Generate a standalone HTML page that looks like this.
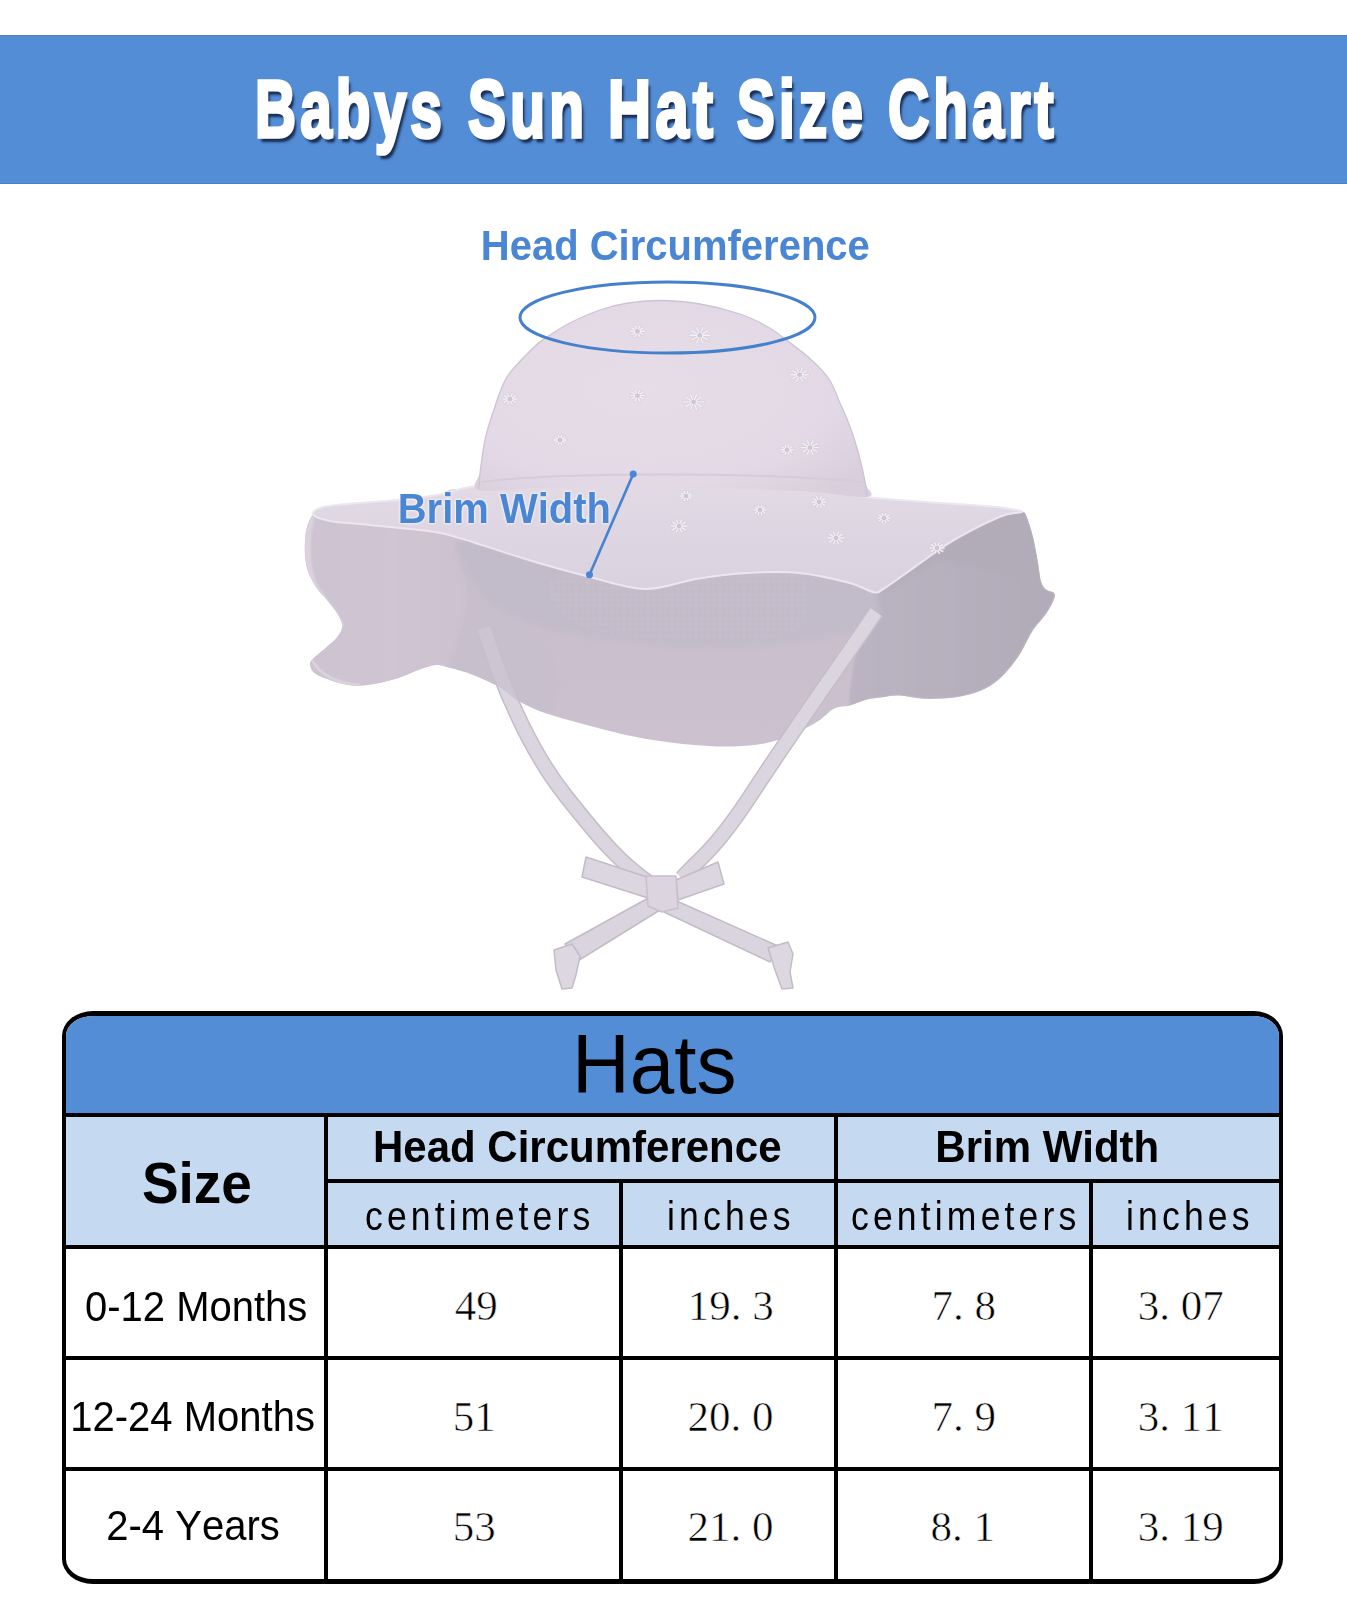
<!DOCTYPE html>
<html>
<head>
<meta charset="utf-8">
<title>Babys Sun Hat Size Chart</title>
<style>
html,body{margin:0;padding:0;background:#fff;}
body{width:1347px;height:1600px;position:relative;overflow:hidden;font-kerning:none;font-family:"Liberation Sans",sans-serif;}
.a{position:absolute;}
.t{position:absolute;white-space:nowrap;line-height:1;color:#000;font-kerning:none;font-family:"Liberation Sans",sans-serif;}
.title{color:#fff;font-weight:bold;font-size:82px;letter-spacing:6px;-webkit-text-stroke:3.6px #fff;transform-origin:0 0;text-shadow:4px 5px 3px rgba(10,20,50,.8);}
.blue{color:#4a86d3;font-weight:bold;font-size:40px;transform-origin:0 0.8467em;transform:scaleY(1.046);text-shadow:0 0 2px #fff,0 0 3px #fff;}
.hats{font-size:80px;transform-origin:0 0.8467em;transform:scaleY(1.04);}
.size{font-size:55px;font-weight:bold;transform-origin:0 0.8467em;transform:scaleY(1.04);}
.hdr{font-size:42px;font-weight:bold;transform-origin:0 0.8467em;transform:scaleY(1.04);}
.sub{font-size:41.5px;letter-spacing:4.84px;transform-origin:0 0.8467em;transform:scaleX(0.857);}
.row{font-size:40px;transform-origin:0 0.8467em;transform:scaleY(1.04);}
.num{font-family:"Liberation Serif",serif;font-size:43px;-webkit-text-stroke:0.6px #fff;}
.pd{display:inline-block;width:.5em;}
#banner{left:0;top:35px;width:1347px;height:147px;background:#538dd5;border-top:1px solid #4a80c6;border-bottom:1px solid #4a7fc3;}
#tbl{left:62px;top:1011px;width:1213px;height:563px;border:4px solid #000;border-top-width:5px;border-bottom-width:5px;border-radius:31px 29px 29px 31px/25px 25px 25px 25px;overflow:hidden;background:#fff;}
.f{position:absolute;}
.k{position:absolute;background:#000;}
</style>
</head>
<body>
<div id="banner" class="a"></div>
<svg class="a" style="left:0;top:0" width="1347" height="1000" viewBox="0 0 1347 1000">
<defs>
<linearGradient id="gBrim" x1="0" y1="0" x2="0" y2="1">
<stop offset="0" stop-color="#c6bcca"/><stop offset="1" stop-color="#cbc1cf"/></linearGradient>
<linearGradient id="gLeft" x1="0" y1="0" x2="1" y2="0">
<stop offset="0" stop-color="#cdc3d1"/><stop offset="0.5" stop-color="#cfc5d3"/><stop offset="1" stop-color="#cbc1cf"/></linearGradient>
<linearGradient id="gFront" x1="0" y1="0" x2="0" y2="1">
<stop offset="0" stop-color="#e2dae5"/><stop offset="1" stop-color="#d9d1de"/></linearGradient>
<radialGradient id="gDome" cx="0.42" cy="0.45" r="0.7">
<stop offset="0" stop-color="#e6dde8"/><stop offset="0.7" stop-color="#e3d9e6"/><stop offset="1" stop-color="#d9cfdc"/></radialGradient>
<linearGradient id="gRight" x1="0" y1="0" x2="1" y2="0">
<stop offset="0" stop-color="#bbb4c2"/><stop offset="0.5" stop-color="#b6afbd"/><stop offset="1" stop-color="#b1abb8"/></linearGradient>
<pattern id="pMesh" width="6" height="6" patternUnits="userSpaceOnUse"><rect width="6" height="6" fill="#c7c0cd"/><circle cx="3" cy="3" r="1.3" fill="#b9b2c0"/></pattern>
<filter id="soft" x="-5%" y="-5%" width="110%" height="110%"><feGaussianBlur stdDeviation="1.2"/></filter>
<filter id="soft3" x="-10%" y="-10%" width="120%" height="120%"><feGaussianBlur stdDeviation="3"/></filter>
<clipPath id="cBrim"><path d="M478.0,488.0 C434.2,488.6 451.7,493.4 437.5,495.5 C423.3,497.6 407.8,498.9 393.0,500.3 C378.2,501.7 360.4,502.7 348.5,503.9 C336.6,505.1 327.6,505.6 321.7,507.4 C315.8,509.2 315.3,510.9 312.8,514.5 C310.3,518.1 307.9,522.8 306.6,528.8 C305.3,534.8 304.7,543.4 304.8,550.2 C304.9,557.0 305.6,563.6 307.5,569.8 C309.4,576.0 313.1,582.6 316.4,587.6 C319.6,592.6 323.4,595.5 327.0,600.0 C330.6,604.5 335.3,609.8 337.8,614.3 C340.3,618.8 342.4,622.9 342.2,626.8 C342.0,630.7 339.7,633.9 336.9,637.5 C334.1,641.1 329.3,644.6 325.3,648.2 C321.3,651.8 315.3,656.2 312.8,658.9 C310.3,661.6 309.8,661.8 310.1,664.2 C310.4,666.6 311.2,670.4 314.6,673.1 C318.0,675.8 324.4,678.1 330.6,680.2 C336.8,682.3 344.6,685.0 352.0,685.6 C359.4,686.2 366.9,685.3 375.2,683.8 C383.5,682.3 394.5,679.1 401.9,676.7 C409.3,674.3 414.0,671.5 419.7,669.6 C425.4,667.7 430.8,665.4 435.8,665.1 C440.9,664.8 443.8,666.2 450.0,667.8 C456.2,669.4 464.9,671.6 473.2,674.9 C481.5,678.2 492.2,682.9 499.9,687.4 C507.6,691.9 511.7,697.2 519.5,701.6 C527.3,706.0 536.2,709.9 546.6,713.6 C557.0,717.3 567.7,719.9 582.0,723.7 C596.3,727.5 615.6,732.9 632.4,736.3 C649.2,739.7 666.2,742.2 683.0,743.9 C699.8,745.6 718.3,746.8 733.4,746.4 C748.5,746.0 760.3,745.1 773.7,741.3 C787.1,737.5 803.9,729.2 814.0,723.7 C824.1,718.2 828.3,711.5 834.3,708.5 C840.3,705.5 844.7,706.9 850.0,705.4 C855.3,703.9 860.8,701.1 866.3,699.7 C871.8,698.3 877.2,697.9 882.7,697.2 C888.2,696.5 892.2,695.3 899.0,695.6 C905.8,695.9 914.0,698.5 923.5,698.8 C933.0,699.1 946.5,698.6 956.0,697.2 C965.5,695.9 973.9,693.4 980.7,690.7 C987.5,688.0 992.1,684.8 997.0,681.0 C1001.9,677.2 1005.9,672.7 1010.0,667.8 C1014.1,662.9 1017.7,657.8 1021.5,651.5 C1025.3,645.2 1028.9,636.5 1033.0,630.3 C1037.1,624.0 1042.5,619.2 1046.0,614.0 C1049.5,608.8 1052.7,602.8 1054.0,599.2 C1055.3,595.7 1055.3,594.3 1054.0,592.7 C1052.7,591.1 1048.2,591.3 1046.0,589.4 C1043.8,587.5 1042.4,585.9 1041.0,581.3 C1039.6,576.7 1039.1,569.1 1037.8,561.7 C1036.5,554.3 1034.9,544.6 1033.0,537.0 C1031.1,529.4 1028.1,520.2 1026.4,516.0 C1024.7,511.8 1025.2,513.1 1023.0,512.0 C1020.8,510.9 1017.6,510.2 1013.3,509.4 C1009.0,508.6 1005.2,507.8 997.0,507.0 C988.8,506.2 977.9,505.5 964.3,504.5 C950.7,503.5 931.6,502.3 915.3,501.2 C899.0,500.1 902.2,499.5 866.3,498.0 C830.4,496.5 764.7,493.7 700.0,492.0 C635.3,490.3 521.8,487.4 478.0,488.0 Z"/></clipPath>
</defs>
<path d="M484,628 C503,688 528,748 565,795 S622,864 648,882" fill="none" stroke="#c4bdc9" stroke-width="16"/><path d="M484,628 C503,688 528,748 565,795 S622,864 648,882" fill="none" stroke="#dbd5df" stroke-width="13"/>
<path d="M478.0,488.0 C434.2,488.6 451.7,493.4 437.5,495.5 C423.3,497.6 407.8,498.9 393.0,500.3 C378.2,501.7 360.4,502.7 348.5,503.9 C336.6,505.1 327.6,505.6 321.7,507.4 C315.8,509.2 315.3,510.9 312.8,514.5 C310.3,518.1 307.9,522.8 306.6,528.8 C305.3,534.8 304.7,543.4 304.8,550.2 C304.9,557.0 305.6,563.6 307.5,569.8 C309.4,576.0 313.1,582.6 316.4,587.6 C319.6,592.6 323.4,595.5 327.0,600.0 C330.6,604.5 335.3,609.8 337.8,614.3 C340.3,618.8 342.4,622.9 342.2,626.8 C342.0,630.7 339.7,633.9 336.9,637.5 C334.1,641.1 329.3,644.6 325.3,648.2 C321.3,651.8 315.3,656.2 312.8,658.9 C310.3,661.6 309.8,661.8 310.1,664.2 C310.4,666.6 311.2,670.4 314.6,673.1 C318.0,675.8 324.4,678.1 330.6,680.2 C336.8,682.3 344.6,685.0 352.0,685.6 C359.4,686.2 366.9,685.3 375.2,683.8 C383.5,682.3 394.5,679.1 401.9,676.7 C409.3,674.3 414.0,671.5 419.7,669.6 C425.4,667.7 430.8,665.4 435.8,665.1 C440.9,664.8 443.8,666.2 450.0,667.8 C456.2,669.4 464.9,671.6 473.2,674.9 C481.5,678.2 492.2,682.9 499.9,687.4 C507.6,691.9 511.7,697.2 519.5,701.6 C527.3,706.0 536.2,709.9 546.6,713.6 C557.0,717.3 567.7,719.9 582.0,723.7 C596.3,727.5 615.6,732.9 632.4,736.3 C649.2,739.7 666.2,742.2 683.0,743.9 C699.8,745.6 718.3,746.8 733.4,746.4 C748.5,746.0 760.3,745.1 773.7,741.3 C787.1,737.5 803.9,729.2 814.0,723.7 C824.1,718.2 828.3,711.5 834.3,708.5 C840.3,705.5 844.7,706.9 850.0,705.4 C855.3,703.9 860.8,701.1 866.3,699.7 C871.8,698.3 877.2,697.9 882.7,697.2 C888.2,696.5 892.2,695.3 899.0,695.6 C905.8,695.9 914.0,698.5 923.5,698.8 C933.0,699.1 946.5,698.6 956.0,697.2 C965.5,695.9 973.9,693.4 980.7,690.7 C987.5,688.0 992.1,684.8 997.0,681.0 C1001.9,677.2 1005.9,672.7 1010.0,667.8 C1014.1,662.9 1017.7,657.8 1021.5,651.5 C1025.3,645.2 1028.9,636.5 1033.0,630.3 C1037.1,624.0 1042.5,619.2 1046.0,614.0 C1049.5,608.8 1052.7,602.8 1054.0,599.2 C1055.3,595.7 1055.3,594.3 1054.0,592.7 C1052.7,591.1 1048.2,591.3 1046.0,589.4 C1043.8,587.5 1042.4,585.9 1041.0,581.3 C1039.6,576.7 1039.1,569.1 1037.8,561.7 C1036.5,554.3 1034.9,544.6 1033.0,537.0 C1031.1,529.4 1028.1,520.2 1026.4,516.0 C1024.7,511.8 1025.2,513.1 1023.0,512.0 C1020.8,510.9 1017.6,510.2 1013.3,509.4 C1009.0,508.6 1005.2,507.8 997.0,507.0 C988.8,506.2 977.9,505.5 964.3,504.5 C950.7,503.5 931.6,502.3 915.3,501.2 C899.0,500.1 902.2,499.5 866.3,498.0 C830.4,496.5 764.7,493.7 700.0,492.0 C635.3,490.3 521.8,487.4 478.0,488.0 Z" fill="url(#gBrim)"/>
<g clip-path="url(#cBrim)">
<path d="M478.0,488.0 C472.6,483.9 451.7,493.4 437.5,495.5 C423.3,497.6 407.8,498.9 393.0,500.3 C378.2,501.7 360.4,502.7 348.5,503.9 C336.6,505.1 327.6,505.6 321.7,507.4 C315.8,509.2 315.3,510.9 312.8,514.5 C310.3,518.1 307.9,522.8 306.6,528.8 C305.3,534.8 304.7,543.4 304.8,550.2 C304.9,557.0 305.6,563.6 307.5,569.8 C309.4,576.0 313.1,582.6 316.4,587.6 C319.6,592.6 323.4,595.5 327.0,600.0 C330.6,604.5 335.3,609.8 337.8,614.3 C340.3,618.8 342.4,622.9 342.2,626.8 C342.0,630.7 339.7,633.9 336.9,637.5 C334.1,641.1 329.3,644.6 325.3,648.2 C321.3,651.8 315.3,656.2 312.8,658.9 C310.3,661.6 309.8,661.8 310.1,664.2 C310.4,666.6 311.2,670.4 314.6,673.1 C318.0,675.8 324.4,678.1 330.6,680.2 C336.8,682.3 344.6,685.0 352.0,685.6 C359.4,686.2 366.9,685.3 375.2,683.8 C383.5,682.3 394.5,679.1 401.9,676.7 C409.3,674.3 414.0,671.5 419.7,669.6 C425.4,667.7 430.8,665.4 435.8,665.1 C440.9,664.8 446.3,672.0 450.0,667.8 C453.7,663.6 455.0,651.3 458.0,640.0 C461.0,628.7 467.3,613.3 468.0,600.0 C468.7,586.7 461.7,573.3 462.0,560.0 C462.3,546.7 467.3,532.0 470.0,520.0 C472.7,508.0 483.4,492.1 478.0,488.0 Z" fill="url(#gLeft)" filter="url(#soft)"/>
<path d="M458.0,545.0 C456.3,551.7 469.7,584.2 470.0,600.0 C470.3,615.8 463.3,628.7 460.0,640.0 C456.7,651.3 447.8,662.0 450.0,667.8 C452.2,673.6 464.9,671.6 473.2,674.9 C481.5,678.2 492.2,682.9 499.9,687.4 C507.6,691.9 511.7,697.2 519.5,701.6 C527.3,706.0 539.9,717.2 546.6,713.6 C553.4,710.0 561.1,692.3 560.0,680.0 C558.9,667.7 550.0,653.3 540.0,640.0 C530.0,626.7 510.0,613.3 500.0,600.0 C490.0,586.7 487.0,569.2 480.0,560.0 C473.0,550.8 459.7,538.3 458.0,545.0 Z" fill="#c8bfcd" filter="url(#soft3)"/>
<path d="M873.0,592.0 C875.5,586.9 875.7,593.6 882.7,589.4 C889.8,585.2 904.4,574.2 915.3,566.6 C926.2,559.0 937.1,550.5 948.0,543.7 C958.9,536.9 971.2,530.5 980.7,525.7 C990.2,520.9 998.0,517.3 1005.0,515.0 C1012.0,512.7 1019.4,511.8 1023.0,512.0 C1026.6,512.2 1024.7,511.8 1026.4,516.0 C1028.1,520.2 1031.1,529.4 1033.0,537.0 C1034.9,544.6 1036.5,554.3 1037.8,561.7 C1039.1,569.1 1039.6,576.7 1041.0,581.3 C1042.4,585.9 1043.8,587.5 1046.0,589.4 C1048.2,591.3 1052.7,591.1 1054.0,592.7 C1055.3,594.3 1055.3,595.7 1054.0,599.2 C1052.7,602.8 1049.5,608.8 1046.0,614.0 C1042.5,619.2 1037.1,624.0 1033.0,630.3 C1028.9,636.5 1025.3,645.2 1021.5,651.5 C1017.7,657.8 1014.1,662.9 1010.0,667.8 C1005.9,672.7 1001.9,677.2 997.0,681.0 C992.1,684.8 987.5,688.0 980.7,690.7 C973.9,693.4 965.5,695.9 956.0,697.2 C946.5,698.6 933.0,699.1 923.5,698.8 C914.0,698.5 905.8,695.9 899.0,695.6 C892.2,695.3 888.2,696.5 882.7,697.2 C877.2,697.9 871.8,698.3 866.3,699.7 C860.8,701.1 851.9,712.0 850.0,705.4 C848.1,698.8 852.0,674.2 855.0,660.0 C858.0,645.8 865.0,631.3 868.0,620.0 C871.0,608.7 870.5,597.1 873.0,592.0 Z" fill="url(#gRight)" filter="url(#soft)"/>
<path d="M882.7,589.4 C884.4,587.2 904.4,574.2 915.3,566.6 C926.2,559.0 937.1,550.5 948.0,543.7 C958.9,536.9 971.2,530.5 980.7,525.7 C990.2,520.9 998.0,517.3 1005.0,515.0 C1012.0,512.7 1018.8,509.5 1023.0,512.0 C1027.2,514.5 1027.8,522.0 1030.0,530.0 C1032.2,538.0 1034.3,550.8 1036.0,560.0 C1037.7,569.2 1046.0,582.5 1040.0,585.0 C1034.0,587.5 1013.3,578.3 1000.0,575.0 C986.7,571.7 970.8,567.2 960.0,565.0 C949.2,562.8 944.2,559.5 935.0,562.0 C925.8,564.5 913.7,575.4 905.0,580.0 C896.3,584.6 881.0,591.6 882.7,589.4 Z" fill="#b2acb9" filter="url(#soft3)"/>
<path d="M460.0,541.0 C469.5,538.3 503.3,553.0 525.0,559.0 C546.7,565.0 570.0,572.0 590.0,577.0 C610.0,582.0 627.3,588.7 645.0,589.0 C662.7,589.3 679.0,581.7 696.0,579.0 C713.0,576.3 729.8,574.0 747.0,573.0 C764.2,572.0 781.8,571.3 799.0,573.0 C816.2,574.7 837.7,579.8 850.0,583.0 C862.3,586.2 868.3,586.7 873.0,592.0 C877.7,597.3 881.8,608.3 878.0,615.0 C874.2,621.7 864.7,627.3 850.0,632.0 C835.3,636.7 815.0,640.5 790.0,643.0 C765.0,645.5 728.3,647.3 700.0,647.0 C671.7,646.7 645.8,644.3 620.0,641.0 C594.2,637.7 565.8,632.8 545.0,627.0 C524.2,621.2 507.8,614.7 495.0,606.0 C482.2,597.3 473.8,585.8 468.0,575.0 C462.2,564.2 450.5,543.7 460.0,541.0 Z" fill="#c2bbc9" filter="url(#soft3)"/>
<path d="M552.0,578.0 C558.7,572.2 584.5,575.3 600.0,577.0 C615.5,578.7 629.0,587.3 645.0,588.0 C661.0,588.7 679.0,583.2 696.0,581.0 C713.0,578.8 729.8,576.0 747.0,575.0 C764.2,574.0 788.8,570.8 799.0,575.0 C809.2,579.2 808.2,590.8 808.0,600.0 C807.8,609.2 809.3,623.3 798.0,630.0 C786.7,636.7 763.0,638.7 740.0,640.0 C717.0,641.3 683.3,639.3 660.0,638.0 C636.7,636.7 616.7,636.3 600.0,632.0 C583.3,627.7 568.0,621.0 560.0,612.0 C552.0,603.0 545.3,583.8 552.0,578.0 Z" fill="url(#pMesh)" opacity="0.6" filter="url(#soft)"/>
<path d="M312,516 C306,540 305,565 316,588 C325,602 338,616 342,627" fill="none" stroke="#ddd4e0" stroke-width="6" opacity="0.9" filter="url(#soft)"/>
<path d="M312,660 C320,676 340,684 360,685" fill="none" stroke="#dfd7e2" stroke-width="3" opacity="0.7"/>
</g>
<g clip-path="url(#cBrim)" opacity="0.3"><path d="M484,628 C503,688 528,748 565,795 S622,864 648,882" fill="none" stroke="#c4bdc9" stroke-width="16"/><path d="M484,628 C503,688 528,748 565,795 S622,864 648,882" fill="none" stroke="#dbd5df" stroke-width="13"/></g>
<path d="M876,612 C840,665 790,735 753,792 S700,858 682,878" fill="none" stroke="#c4bdc9" stroke-width="16"/>
<path d="M876,612 C840,665 790,735 753,792 S700,858 682,878" fill="none" stroke="#dbd5df" stroke-width="13"/>
<path d="M312.8,514.5 C311.4,512.2 315.8,509.2 321.7,507.4 C327.6,505.6 336.6,505.1 348.5,503.9 C360.4,502.7 378.2,501.8 393.0,500.3 C407.8,498.8 423.6,497.4 437.5,495.0 C451.4,492.6 456.3,488.2 476.7,486.0 C497.1,483.8 529.0,483.0 560.0,482.0 C591.0,481.0 626.3,479.7 663.0,480.0 C699.7,480.3 746.1,481.2 780.0,484.0 C813.9,486.8 843.8,494.1 866.3,497.0 C888.8,499.9 899.0,499.9 915.3,501.2 C931.6,502.4 950.7,503.5 964.3,504.5 C977.9,505.5 988.8,506.2 997.0,507.0 C1005.2,507.8 1009.1,508.6 1013.3,509.4 C1017.5,510.2 1023.4,511.1 1022.0,512.0 C1020.6,512.9 1011.9,512.7 1005.0,515.0 C998.1,517.3 990.2,520.9 980.7,525.7 C971.2,530.5 958.9,536.9 948.0,543.7 C937.1,550.5 926.2,559.0 915.3,566.6 C904.4,574.2 889.8,585.2 882.7,589.4 C875.7,593.6 878.5,593.1 873.0,592.0 C867.5,590.9 862.3,586.2 850.0,583.0 C837.7,579.8 816.2,574.7 799.0,573.0 C781.8,571.3 764.2,572.0 747.0,573.0 C729.8,574.0 713.0,576.3 696.0,579.0 C679.0,581.7 662.7,589.3 645.0,589.0 C627.3,588.7 609.9,582.0 590.0,577.0 C570.1,572.0 544.7,564.8 525.4,559.0 C506.1,553.2 488.2,546.8 474.0,542.5 C459.8,538.2 452.3,535.4 440.0,533.0 C427.7,530.6 413.3,529.5 400.0,528.0 C386.7,526.5 371.7,525.2 360.0,524.0 C348.3,522.8 337.9,522.6 330.0,521.0 C322.1,519.4 314.2,516.8 312.8,514.5 Z" fill="url(#gFront)"/>
<path d="M312.8,514.5 C311.4,512.2 315.8,509.2 321.7,507.4 C327.6,505.6 336.6,505.1 348.5,503.9 C360.4,502.7 378.2,501.8 393.0,500.3 C407.8,498.8 423.6,497.4 437.5,495.0 C451.4,492.6 456.3,488.2 476.7,486.0 C497.1,483.8 529.0,483.0 560.0,482.0 C591.0,481.0 626.3,479.7 663.0,480.0 C699.7,480.3 746.1,481.2 780.0,484.0 C813.9,486.8 843.8,494.1 866.3,497.0 C888.8,499.9 899.0,499.9 915.3,501.2 C931.6,502.4 950.7,503.5 964.3,504.5 C977.9,505.5 988.8,506.2 997.0,507.0 C1005.2,507.8 1009.1,508.6 1013.3,509.4 C1017.5,510.2 1023.4,511.1 1022.0,512.0 C1020.6,512.9 1011.9,512.7 1005.0,515.0 C998.1,517.3 990.2,520.9 980.7,525.7 C971.2,530.5 958.9,536.9 948.0,543.7 C937.1,550.5 926.2,559.0 915.3,566.6 C904.4,574.2 889.8,585.2 882.7,589.4 C875.7,593.6 878.5,593.1 873.0,592.0 C867.5,590.9 862.3,586.2 850.0,583.0 C837.7,579.8 816.2,574.7 799.0,573.0 C781.8,571.3 764.2,572.0 747.0,573.0 C729.8,574.0 713.0,576.3 696.0,579.0 C679.0,581.7 662.7,589.3 645.0,589.0 C627.3,588.7 609.9,582.0 590.0,577.0 C570.1,572.0 544.7,564.8 525.4,559.0 C506.1,553.2 488.2,546.8 474.0,542.5 C459.8,538.2 452.3,535.4 440.0,533.0 C427.7,530.6 413.3,529.5 400.0,528.0 C386.7,526.5 371.7,525.2 360.0,524.0 C348.3,522.8 337.9,522.6 330.0,521.0 C322.1,519.4 314.2,516.8 312.8,514.5 Z" fill="none" stroke="#ece6ef" stroke-width="2"/>
<path d="M659.6,300.5 C671.6,300.7 686.6,301.8 700.0,304.0 C713.4,306.2 728.7,310.2 740.0,314.0 C751.3,317.8 759.8,322.3 768.0,327.0 C776.2,331.7 781.8,336.6 789.0,342.0 C796.2,347.4 804.3,353.3 811.0,359.5 C817.7,365.7 824.2,371.8 829.0,379.0 C833.8,386.2 836.5,395.2 840.0,403.0 C843.5,410.8 846.6,417.3 849.8,426.0 C853.0,434.7 856.5,445.8 859.1,455.3 C861.7,464.9 864.1,476.4 865.4,483.3 C866.7,490.2 877.9,495.7 867.0,497.0 C856.1,498.3 834.0,492.7 800.0,491.0 C766.0,489.3 706.3,487.5 663.0,487.0 C619.7,486.5 570.7,487.5 540.0,488.0 C509.3,488.5 488.6,492.9 478.7,490.0 C468.8,487.1 479.2,479.3 480.3,470.9 C481.4,462.5 482.7,450.1 485.0,439.7 C487.3,429.3 490.7,418.9 494.3,408.5 C497.9,398.1 500.7,387.1 506.8,377.3 C512.9,367.6 524.8,356.4 531.0,350.0 C537.2,343.6 537.5,343.5 544.0,339.0 C550.5,334.5 560.7,327.8 570.0,323.0 C579.3,318.2 590.3,313.3 600.0,310.0 C609.7,306.7 618.1,304.6 628.0,303.0 C637.9,301.4 647.6,300.3 659.6,300.5 Z" fill="url(#gDome)"/>
<path d="M478.7,490.0 C479.0,486.8 479.2,479.3 480.3,470.9 C481.4,462.5 482.7,450.1 485.0,439.7 C487.3,429.3 490.7,418.9 494.3,408.5 C497.9,398.1 500.7,387.1 506.8,377.3 C512.9,367.6 524.8,356.4 531.0,350.0 C537.2,343.6 537.5,343.5 544.0,339.0 C550.5,334.5 560.7,327.8 570.0,323.0 C579.3,318.2 590.3,313.3 600.0,310.0 C609.7,306.7 618.1,304.6 628.0,303.0 C637.9,301.4 647.6,300.3 659.6,300.5 C671.6,300.7 686.6,301.8 700.0,304.0 C713.4,306.2 728.7,310.2 740.0,314.0 C751.3,317.8 759.8,322.3 768.0,327.0 C776.2,331.7 781.8,336.6 789.0,342.0 C796.2,347.4 804.3,353.3 811.0,359.5 C817.7,365.7 824.2,371.8 829.0,379.0 C833.8,386.2 836.5,395.2 840.0,403.0 C843.5,410.8 846.6,417.3 849.8,426.0 C853.0,434.7 856.5,445.8 859.1,455.3 C861.7,464.9 864.1,476.4 865.4,483.3 C866.7,490.2 866.7,494.7 867.0,497.0 " fill="none" stroke="#cdc4d2" stroke-width="1.3"/>
<g><path d="M702.8,335.3 L709.8,335.3 M702.2,336.7 L707.9,340.0 M700.7,337.6 L702.9,342.9 M698.9,337.6 L696.7,342.9 M697.4,336.7 L691.7,340.0 M696.8,335.3 L689.8,335.3 M697.4,333.9 L691.7,330.6 M698.9,333.0 L696.7,327.7 M700.7,333.0 L702.9,327.7 M702.2,333.9 L707.9,330.6" stroke="#cbc2d0" stroke-width="2.6" stroke-linecap="round" fill="none" opacity="0.55"/><path d="M702.8,335.3 L709.8,335.3 M702.2,336.7 L707.9,340.0 M700.7,337.6 L702.9,342.9 M698.9,337.6 L696.7,342.9 M697.4,336.7 L691.7,340.0 M696.8,335.3 L689.8,335.3 M697.4,333.9 L691.7,330.6 M698.9,333.0 L696.7,327.7 M700.7,333.0 L702.9,327.7 M702.2,333.9 L707.9,330.6" stroke="#f4f0f6" stroke-width="1.4" stroke-linecap="round" fill="none"/><circle cx="699.8" cy="335.3" r="2.2" fill="#cfc6d4"/><path d="M640.4,331.2 L644.4,331.2 M639.8,332.6 L643.1,334.5 M638.3,333.5 L639.6,336.5 M636.5,333.5 L635.2,336.5 M635.0,332.6 L631.7,334.5 M634.4,331.2 L630.4,331.2 M635.0,329.8 L631.7,327.9 M636.5,328.9 L635.2,325.9 M638.3,328.9 L639.6,325.9 M639.8,329.8 L643.1,327.9" stroke="#cbc2d0" stroke-width="2.6" stroke-linecap="round" fill="none" opacity="0.55"/><path d="M640.4,331.2 L644.4,331.2 M639.8,332.6 L643.1,334.5 M638.3,333.5 L639.6,336.5 M636.5,333.5 L635.2,336.5 M635.0,332.6 L631.7,334.5 M634.4,331.2 L630.4,331.2 M635.0,329.8 L631.7,327.9 M636.5,328.9 L635.2,325.9 M638.3,328.9 L639.6,325.9 M639.8,329.8 L643.1,327.9" stroke="#f4f0f6" stroke-width="1.4" stroke-linecap="round" fill="none"/><circle cx="637.4" cy="331.2" r="2.2" fill="#cfc6d4"/><path d="M802.6,374.8 L808.6,374.8 M802.0,376.2 L806.9,379.0 M800.5,377.1 L802.4,381.6 M798.7,377.1 L796.8,381.6 M797.2,376.2 L792.3,379.0 M796.6,374.8 L790.6,374.8 M797.2,373.4 L792.3,370.6 M798.7,372.5 L796.8,368.0 M800.5,372.5 L802.4,368.0 M802.0,373.4 L806.9,370.6" stroke="#cbc2d0" stroke-width="2.6" stroke-linecap="round" fill="none" opacity="0.55"/><path d="M802.6,374.8 L808.6,374.8 M802.0,376.2 L806.9,379.0 M800.5,377.1 L802.4,381.6 M798.7,377.1 L796.8,381.6 M797.2,376.2 L792.3,379.0 M796.6,374.8 L790.6,374.8 M797.2,373.4 L792.3,370.6 M798.7,372.5 L796.8,368.0 M800.5,372.5 L802.4,368.0 M802.0,373.4 L806.9,370.6" stroke="#f4f0f6" stroke-width="1.4" stroke-linecap="round" fill="none"/><circle cx="799.6" cy="374.8" r="2.2" fill="#cfc6d4"/><path d="M696.6,401.9 L703.6,401.9 M696.0,403.3 L701.7,406.6 M694.5,404.2 L696.7,409.5 M692.7,404.2 L690.5,409.5 M691.2,403.3 L685.5,406.6 M690.6,401.9 L683.6,401.9 M691.2,400.5 L685.5,397.2 M692.7,399.6 L690.5,394.3 M694.5,399.6 L696.7,394.3 M696.0,400.5 L701.7,397.2" stroke="#cbc2d0" stroke-width="2.6" stroke-linecap="round" fill="none" opacity="0.55"/><path d="M696.6,401.9 L703.6,401.9 M696.0,403.3 L701.7,406.6 M694.5,404.2 L696.7,409.5 M692.7,404.2 L690.5,409.5 M691.2,403.3 L685.5,406.6 M690.6,401.9 L683.6,401.9 M691.2,400.5 L685.5,397.2 M692.7,399.6 L690.5,394.3 M694.5,399.6 L696.7,394.3 M696.0,400.5 L701.7,397.2" stroke="#f4f0f6" stroke-width="1.4" stroke-linecap="round" fill="none"/><circle cx="693.6" cy="401.9" r="2.2" fill="#cfc6d4"/><path d="M640.4,395.6 L644.4,395.6 M639.8,397.0 L643.1,398.9 M638.3,397.9 L639.6,400.9 M636.5,397.9 L635.2,400.9 M635.0,397.0 L631.7,398.9 M634.4,395.6 L630.4,395.6 M635.0,394.2 L631.7,392.3 M636.5,393.3 L635.2,390.3 M638.3,393.3 L639.6,390.3 M639.8,394.2 L643.1,392.3" stroke="#cbc2d0" stroke-width="2.6" stroke-linecap="round" fill="none" opacity="0.55"/><path d="M640.4,395.6 L644.4,395.6 M639.8,397.0 L643.1,398.9 M638.3,397.9 L639.6,400.9 M636.5,397.9 L635.2,400.9 M635.0,397.0 L631.7,398.9 M634.4,395.6 L630.4,395.6 M635.0,394.2 L631.7,392.3 M636.5,393.3 L635.2,390.3 M638.3,393.3 L639.6,390.3 M639.8,394.2 L643.1,392.3" stroke="#f4f0f6" stroke-width="1.4" stroke-linecap="round" fill="none"/><circle cx="637.4" cy="395.6" r="2.2" fill="#cfc6d4"/><path d="M813.0,447.6 L819.0,447.6 M812.4,449.0 L817.3,451.8 M810.9,449.9 L812.8,454.4 M809.1,449.9 L807.2,454.4 M807.6,449.0 L802.7,451.8 M807.0,447.6 L801.0,447.6 M807.6,446.2 L802.7,443.4 M809.1,445.3 L807.2,440.8 M810.9,445.3 L812.8,440.8 M812.4,446.2 L817.3,443.4" stroke="#cbc2d0" stroke-width="2.6" stroke-linecap="round" fill="none" opacity="0.55"/><path d="M813.0,447.6 L819.0,447.6 M812.4,449.0 L817.3,451.8 M810.9,449.9 L812.8,454.4 M809.1,449.9 L807.2,454.4 M807.6,449.0 L802.7,451.8 M807.0,447.6 L801.0,447.6 M807.6,446.2 L802.7,443.4 M809.1,445.3 L807.2,440.8 M810.9,445.3 L812.8,440.8 M812.4,446.2 L817.3,443.4" stroke="#f4f0f6" stroke-width="1.4" stroke-linecap="round" fill="none"/><circle cx="810" cy="447.6" r="2.2" fill="#cfc6d4"/><path d="M790.0,449.7 L793.0,449.7 M789.4,451.1 L791.9,452.5 M787.9,452.0 L788.9,454.3 M786.1,452.0 L785.1,454.3 M784.6,451.1 L782.1,452.5 M784.0,449.7 L781.0,449.7 M784.6,448.3 L782.1,446.9 M786.1,447.4 L785.1,445.1 M787.9,447.4 L788.9,445.1 M789.4,448.3 L791.9,446.9" stroke="#cbc2d0" stroke-width="2.6" stroke-linecap="round" fill="none" opacity="0.55"/><path d="M790.0,449.7 L793.0,449.7 M789.4,451.1 L791.9,452.5 M787.9,452.0 L788.9,454.3 M786.1,452.0 L785.1,454.3 M784.6,451.1 L782.1,452.5 M784.0,449.7 L781.0,449.7 M784.6,448.3 L782.1,446.9 M786.1,447.4 L785.1,445.1 M787.9,447.4 L788.9,445.1 M789.4,448.3 L791.9,446.9" stroke="#f4f0f6" stroke-width="1.4" stroke-linecap="round" fill="none"/><circle cx="787" cy="449.7" r="2.2" fill="#cfc6d4"/><path d="M513.0,399.0 L517.0,399.0 M512.4,400.4 L515.7,402.3 M510.9,401.3 L512.2,404.3 M509.1,401.3 L507.8,404.3 M507.6,400.4 L504.3,402.3 M507.0,399.0 L503.0,399.0 M507.6,397.6 L504.3,395.7 M509.1,396.7 L507.8,393.7 M510.9,396.7 L512.2,393.7 M512.4,397.6 L515.7,395.7" stroke="#cbc2d0" stroke-width="2.6" stroke-linecap="round" fill="none" opacity="0.55"/><path d="M513.0,399.0 L517.0,399.0 M512.4,400.4 L515.7,402.3 M510.9,401.3 L512.2,404.3 M509.1,401.3 L507.8,404.3 M507.6,400.4 L504.3,402.3 M507.0,399.0 L503.0,399.0 M507.6,397.6 L504.3,395.7 M509.1,396.7 L507.8,393.7 M510.9,396.7 L512.2,393.7 M512.4,397.6 L515.7,395.7" stroke="#f4f0f6" stroke-width="1.4" stroke-linecap="round" fill="none"/><circle cx="510" cy="399" r="2.2" fill="#cfc6d4"/><path d="M563.0,440.0 L566.0,440.0 M562.4,441.4 L564.9,442.8 M560.9,442.3 L561.9,444.6 M559.1,442.3 L558.1,444.6 M557.6,441.4 L555.1,442.8 M557.0,440.0 L554.0,440.0 M557.6,438.6 L555.1,437.2 M559.1,437.7 L558.1,435.4 M560.9,437.7 L561.9,435.4 M562.4,438.6 L564.9,437.2" stroke="#cbc2d0" stroke-width="2.6" stroke-linecap="round" fill="none" opacity="0.55"/><path d="M563.0,440.0 L566.0,440.0 M562.4,441.4 L564.9,442.8 M560.9,442.3 L561.9,444.6 M559.1,442.3 L558.1,444.6 M557.6,441.4 L555.1,442.8 M557.0,440.0 L554.0,440.0 M557.6,438.6 L555.1,437.2 M559.1,437.7 L558.1,435.4 M560.9,437.7 L561.9,435.4 M562.4,438.6 L564.9,437.2" stroke="#f4f0f6" stroke-width="1.4" stroke-linecap="round" fill="none"/><circle cx="560" cy="440" r="2.2" fill="#cfc6d4"/><path d="M682.0,526.0 L687.0,526.0 M681.4,527.4 L685.5,529.8 M679.9,528.3 L681.5,532.1 M678.1,528.3 L676.5,532.1 M676.6,527.4 L672.5,529.8 M676.0,526.0 L671.0,526.0 M676.6,524.6 L672.5,522.2 M678.1,523.7 L676.5,519.9 M679.9,523.7 L681.5,519.9 M681.4,524.6 L685.5,522.2" stroke="#cbc2d0" stroke-width="2.6" stroke-linecap="round" fill="none" opacity="0.55"/><path d="M682.0,526.0 L687.0,526.0 M681.4,527.4 L685.5,529.8 M679.9,528.3 L681.5,532.1 M678.1,528.3 L676.5,532.1 M676.6,527.4 L672.5,529.8 M676.0,526.0 L671.0,526.0 M676.6,524.6 L672.5,522.2 M678.1,523.7 L676.5,519.9 M679.9,523.7 L681.5,519.9 M681.4,524.6 L685.5,522.2" stroke="#f4f0f6" stroke-width="1.4" stroke-linecap="round" fill="none"/><circle cx="679" cy="526" r="2.2" fill="#cfc6d4"/><path d="M839.0,538.0 L844.0,538.0 M838.4,539.4 L842.5,541.8 M836.9,540.3 L838.5,544.1 M835.1,540.3 L833.5,544.1 M833.6,539.4 L829.5,541.8 M833.0,538.0 L828.0,538.0 M833.6,536.6 L829.5,534.2 M835.1,535.7 L833.5,531.9 M836.9,535.7 L838.5,531.9 M838.4,536.6 L842.5,534.2" stroke="#cbc2d0" stroke-width="2.6" stroke-linecap="round" fill="none" opacity="0.55"/><path d="M839.0,538.0 L844.0,538.0 M838.4,539.4 L842.5,541.8 M836.9,540.3 L838.5,544.1 M835.1,540.3 L833.5,544.1 M833.6,539.4 L829.5,541.8 M833.0,538.0 L828.0,538.0 M833.6,536.6 L829.5,534.2 M835.1,535.7 L833.5,531.9 M836.9,535.7 L838.5,531.9 M838.4,536.6 L842.5,534.2" stroke="#f4f0f6" stroke-width="1.4" stroke-linecap="round" fill="none"/><circle cx="836" cy="538" r="2.2" fill="#cfc6d4"/><path d="M822.0,502.0 L826.0,502.0 M821.4,503.4 L824.7,505.3 M819.9,504.3 L821.2,507.3 M818.1,504.3 L816.8,507.3 M816.6,503.4 L813.3,505.3 M816.0,502.0 L812.0,502.0 M816.6,500.6 L813.3,498.7 M818.1,499.7 L816.8,496.7 M819.9,499.7 L821.2,496.7 M821.4,500.6 L824.7,498.7" stroke="#cbc2d0" stroke-width="2.6" stroke-linecap="round" fill="none" opacity="0.55"/><path d="M822.0,502.0 L826.0,502.0 M821.4,503.4 L824.7,505.3 M819.9,504.3 L821.2,507.3 M818.1,504.3 L816.8,507.3 M816.6,503.4 L813.3,505.3 M816.0,502.0 L812.0,502.0 M816.6,500.6 L813.3,498.7 M818.1,499.7 L816.8,496.7 M819.9,499.7 L821.2,496.7 M821.4,500.6 L824.7,498.7" stroke="#f4f0f6" stroke-width="1.4" stroke-linecap="round" fill="none"/><circle cx="819" cy="502" r="2.2" fill="#cfc6d4"/><path d="M689.0,496.0 L692.0,496.0 M688.4,497.4 L690.9,498.8 M686.9,498.3 L687.9,500.6 M685.1,498.3 L684.1,500.6 M683.6,497.4 L681.1,498.8 M683.0,496.0 L680.0,496.0 M683.6,494.6 L681.1,493.2 M685.1,493.7 L684.1,491.4 M686.9,493.7 L687.9,491.4 M688.4,494.6 L690.9,493.2" stroke="#cbc2d0" stroke-width="2.6" stroke-linecap="round" fill="none" opacity="0.55"/><path d="M689.0,496.0 L692.0,496.0 M688.4,497.4 L690.9,498.8 M686.9,498.3 L687.9,500.6 M685.1,498.3 L684.1,500.6 M683.6,497.4 L681.1,498.8 M683.0,496.0 L680.0,496.0 M683.6,494.6 L681.1,493.2 M685.1,493.7 L684.1,491.4 M686.9,493.7 L687.9,491.4 M688.4,494.6 L690.9,493.2" stroke="#f4f0f6" stroke-width="1.4" stroke-linecap="round" fill="none"/><circle cx="686" cy="496" r="2.2" fill="#cfc6d4"/><path d="M887.0,518.0 L890.0,518.0 M886.4,519.4 L888.9,520.8 M884.9,520.3 L885.9,522.6 M883.1,520.3 L882.1,522.6 M881.6,519.4 L879.1,520.8 M881.0,518.0 L878.0,518.0 M881.6,516.6 L879.1,515.2 M883.1,515.7 L882.1,513.4 M884.9,515.7 L885.9,513.4 M886.4,516.6 L888.9,515.2" stroke="#cbc2d0" stroke-width="2.6" stroke-linecap="round" fill="none" opacity="0.55"/><path d="M887.0,518.0 L890.0,518.0 M886.4,519.4 L888.9,520.8 M884.9,520.3 L885.9,522.6 M883.1,520.3 L882.1,522.6 M881.6,519.4 L879.1,520.8 M881.0,518.0 L878.0,518.0 M881.6,516.6 L879.1,515.2 M883.1,515.7 L882.1,513.4 M884.9,515.7 L885.9,513.4 M886.4,516.6 L888.9,515.2" stroke="#f4f0f6" stroke-width="1.4" stroke-linecap="round" fill="none"/><circle cx="884" cy="518" r="2.2" fill="#cfc6d4"/><path d="M940.0,548.0 L944.0,548.0 M939.4,549.4 L942.7,551.3 M937.9,550.3 L939.2,553.3 M936.1,550.3 L934.8,553.3 M934.6,549.4 L931.3,551.3 M934.0,548.0 L930.0,548.0 M934.6,546.6 L931.3,544.7 M936.1,545.7 L934.8,542.7 M937.9,545.7 L939.2,542.7 M939.4,546.6 L942.7,544.7" stroke="#cbc2d0" stroke-width="2.6" stroke-linecap="round" fill="none" opacity="0.55"/><path d="M940.0,548.0 L944.0,548.0 M939.4,549.4 L942.7,551.3 M937.9,550.3 L939.2,553.3 M936.1,550.3 L934.8,553.3 M934.6,549.4 L931.3,551.3 M934.0,548.0 L930.0,548.0 M934.6,546.6 L931.3,544.7 M936.1,545.7 L934.8,542.7 M937.9,545.7 L939.2,542.7 M939.4,546.6 L942.7,544.7" stroke="#f4f0f6" stroke-width="1.4" stroke-linecap="round" fill="none"/><circle cx="937" cy="548" r="2.2" fill="#cfc6d4"/><path d="M763.0,510.0 L766.0,510.0 M762.4,511.4 L764.9,512.8 M760.9,512.3 L761.9,514.6 M759.1,512.3 L758.1,514.6 M757.6,511.4 L755.1,512.8 M757.0,510.0 L754.0,510.0 M757.6,508.6 L755.1,507.2 M759.1,507.7 L758.1,505.4 M760.9,507.7 L761.9,505.4 M762.4,508.6 L764.9,507.2" stroke="#cbc2d0" stroke-width="2.6" stroke-linecap="round" fill="none" opacity="0.55"/><path d="M763.0,510.0 L766.0,510.0 M762.4,511.4 L764.9,512.8 M760.9,512.3 L761.9,514.6 M759.1,512.3 L758.1,514.6 M757.6,511.4 L755.1,512.8 M757.0,510.0 L754.0,510.0 M757.6,508.6 L755.1,507.2 M759.1,507.7 L758.1,505.4 M760.9,507.7 L761.9,505.4 M762.4,508.6 L764.9,507.2" stroke="#f4f0f6" stroke-width="1.4" stroke-linecap="round" fill="none"/><circle cx="760" cy="510" r="2.2" fill="#cfc6d4"/></g>
<path d="M481,482 C560,472 760,472 864,482" fill="none" stroke="#d6ccd9" stroke-width="2"/>
<g stroke-linejoin="round">
<path d="M650,878 L586,857 L582,877 L648,898 Z" fill="#dcd6e1" stroke="#c3bcc8" stroke-width="1.5"/>
<path d="M676,880 L718,862 L724,884 L678,900 Z" fill="#dcd6e1" stroke="#c3bcc8" stroke-width="1.5"/>
<path d="M652,896 L565,944 L576,962 L660,910 Z" fill="#dad4df" stroke="#c3bcc8" stroke-width="1.5"/>
<path d="M670,898 L778,946 L770,962 L664,912 Z" fill="#dad4df" stroke="#c3bcc8" stroke-width="1.5"/>
<path d="M554,950 L572,944 L580,956 L576,975 L572,988 L562,989 L556,970 Z" fill="#ddd7e2" stroke="#c3bcc8" stroke-width="1.5"/>
<path d="M768,948 L788,942 L793,954 L790,972 L793,988 L782,989 L775,970 Z" fill="#ddd7e2" stroke="#c3bcc8" stroke-width="1.5"/>
<path d="M646,876 L676,876 L678,908 L662,912 L648,906 Z" fill="#dcd5e0" stroke="#c8c0cd" stroke-width="1.5"/>
</g>
<ellipse cx="667.5" cy="317.5" rx="147.5" ry="35.5" fill="none" stroke="#4580cd" stroke-width="3"/>
<line x1="633.2" y1="474.1" x2="589.5" y2="574.7" stroke="#4682d0" stroke-width="2.6"/>
<circle cx="633.2" cy="474.1" r="3.5" fill="#4a86d3"/><circle cx="589.5" cy="574.7" r="3.5" fill="#4a86d3"/>
</svg>
<div id="tbl" class="a">
<div class="f" style="left:0;top:0;width:1213px;height:97px;background:#538dd5"></div>
<div class="k" style="left:0;top:97px;width:1213px;height:4px"></div>
<div class="f" style="left:0;top:101px;width:1213px;height:128px;background:#c5d9f1"></div>
<div class="k" style="left:262px;top:163px;width:951px;height:4px"></div>
<div class="k" style="left:0;top:229px;width:1213px;height:4px"></div>
<div class="k" style="left:0;top:340px;width:1213px;height:4px"></div>
<div class="k" style="left:0;top:451px;width:1213px;height:4px"></div>
<div class="k" style="left:258px;top:101px;width:4px;height:462px"></div>
<div class="k" style="left:768px;top:101px;width:4px;height:462px"></div>
<div class="k" style="left:553px;top:167px;width:4px;height:396px"></div>
<div class="k" style="left:1023px;top:167px;width:4px;height:396px"></div>
</div>
<div class="t title" style="left:254.8px;top:68.2px;transform:scaleX(0.692);">Babys</div>
<div class="t title" style="left:467.7px;top:68.2px;transform:scaleX(0.6957);">Sun</div>
<div class="t title" style="left:607.8px;top:68.2px;transform:scaleX(0.727);">Hat</div>
<div class="t title" style="left:737.1px;top:68.2px;transform:scaleX(0.69);">Size</div>
<div class="t title" style="left:888.1px;top:68.2px;transform:scaleX(0.6954);">Chart</div>
<div class="t blue" style="left:480.8px;top:225.8px;">Head Circumference</div>
<div class="t blue" style="left:397.7px;top:488.8px;">Brim Width</div>
<div class="t hats" style="left:572.0px;top:1026.1px;">Hats</div>
<div class="t size" style="left:141.9px;top:1157.1px;">Size</div>
<div class="t hdr" style="left:373.0px;top:1127.1px;">Head Circumference</div>
<div class="t hdr" style="left:935.3px;top:1127.2px;">Brim Width</div>
<div class="t sub" style="left:364.5px;top:1194.5px;">centimeters</div>
<div class="t sub" style="left:667.1px;top:1194.5px;">inches</div>
<div class="t sub" style="left:851.1px;top:1194.5px;">centimeters</div>
<div class="t sub" style="left:1125.8px;top:1194.5px;">inches</div>
<div class="t row" style="left:85.0px;top:1287.4px;">0-12 Months</div>
<div class="t row" style="left:70.3px;top:1396.6px;">12-24 Months</div>
<div class="t row" style="left:106.3px;top:1505.9px;">2-4 Years</div>
<div class="t num" style="left:454.7px;top:1283.8px;">49</div>
<div class="t num" style="left:687.7px;top:1283.8px;">19<span class="pd">.</span>3</div>
<div class="t num" style="left:931.4px;top:1283.8px;">7<span class="pd">.</span>8</div>
<div class="t num" style="left:1137.8px;top:1283.8px;">3<span class="pd">.</span>07</div>
<div class="t num" style="left:452.7px;top:1394.5px;">51</div>
<div class="t num" style="left:687.6px;top:1394.5px;">20<span class="pd">.</span>0</div>
<div class="t num" style="left:931.4px;top:1394.5px;">7<span class="pd">.</span>9</div>
<div class="t num" style="left:1137.8px;top:1394.5px;">3<span class="pd">.</span>11</div>
<div class="t num" style="left:452.7px;top:1505.0px;">53</div>
<div class="t num" style="left:687.6px;top:1505.0px;">21<span class="pd">.</span>0</div>
<div class="t num" style="left:930.4px;top:1505.0px;">8<span class="pd">.</span>1</div>
<div class="t num" style="left:1137.8px;top:1505.0px;">3<span class="pd">.</span>19</div>
</body>
</html>
